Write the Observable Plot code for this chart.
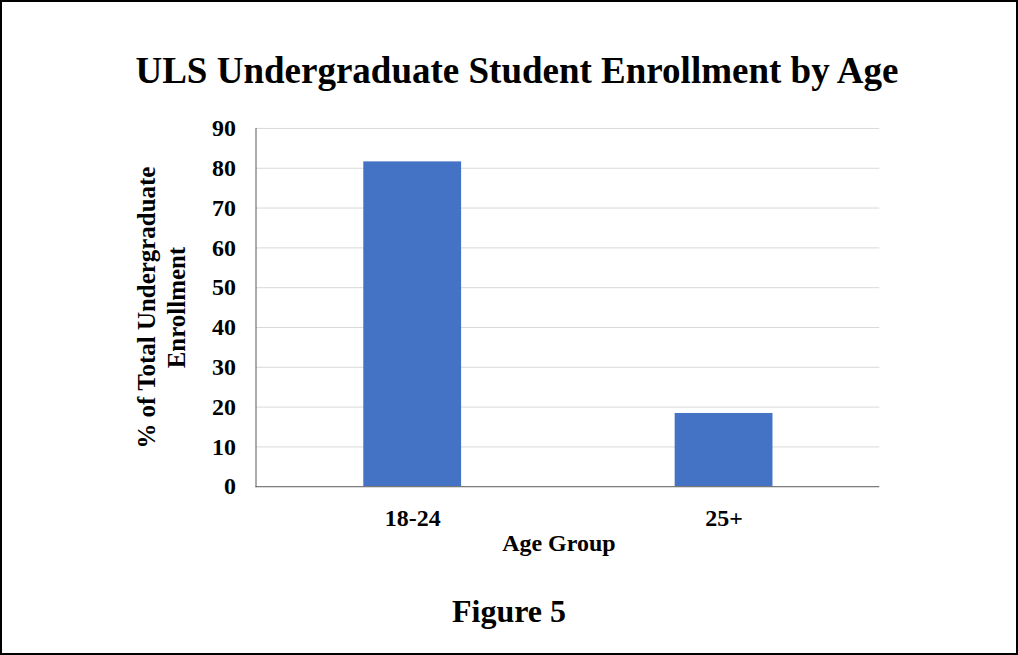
<!DOCTYPE html>
<html>
<head>
<meta charset="utf-8">
<script src="https://cdn.jsdelivr.net/npm/d3@7"></script>
<script src="https://cdn.jsdelivr.net/npm/@observablehq/plot@0.6"></script>
<style>
  html, body { margin: 0; padding: 0; background: #fff; }
  #page {
    position: relative; width: 1018px; height: 655px;
    box-sizing: border-box; border: 2px solid #000; overflow: hidden;
    font-family: "Liberation Serif", "Times New Roman", serif; color: #000;
  }
  .title {
    position: absolute; left: 6px; width: 1018px; top: 50px;
    text-align: center; font-weight: bold; font-size: 37px; line-height: 37px;
  }
  .caption {
    position: absolute; left: -2px; width: 1018px; top: 593px;
    text-align: center; font-weight: bold; font-size: 32px; line-height: 32px;
  }
  #chart { position: absolute; left: -2px; top: 97px; }
</style>
</head>
<body>
<div id="page">
  <div class="title">ULS Undergraduate Student Enrollment by Age</div>
  <div id="chart"></div>
  <div class="caption">Figure 5</div>
</div>
<script>
// Share of undergraduate enrollment by age group (percent)
const ageGroups = ["18-24", "25+"];
const enrollmentPct = [81.6, 18.4];
const yTicks = [0, 10, 20, 30, 40, 50, 60, 70, 80, 90];

const rows = ageGroups.map((g, i) => ({group: g, pct: enrollmentPct[i]}));

const chart = Plot.plot({
  width: 1018,
  height: 462,
  marginTop: 29,
  marginBottom: 74,
  marginLeft: 256,
  marginRight: 137,
  style: {fontFamily: "Liberation Serif, Times New Roman, serif", fontSize: "24px", fontWeight: "bold", color: "#000", background: "#fff"},
  x: {domain: ageGroups, paddingInner: 0.687, paddingOuter: 0.3435, label: null},
  y: {domain: [0, 90], ticks: yTicks, label: null},
  marks: [
    Plot.gridY(yTicks.filter(t => t > 0), {stroke: "#d9d9d9", strokeOpacity: 1, strokeWidth: 1}),
    Plot.barY(rows, {x: "group", y: "pct", fill: "#4472C4"}),
    Plot.axisY({ticks: yTicks, tickSize: 0, tickPadding: 20, label: null, fontSize: 24, fontWeight: "bold"}),
    Plot.axisX({tickSize: 0, tickPadding: 22, label: null, fontSize: 24, fontWeight: "bold"}),
    Plot.frame({anchor: "left", stroke: "#595959"}),
    Plot.ruleY([0], {stroke: "#595959"}),
    Plot.text(["Age Group"], {frameAnchor: "bottom", dy: 64, dx: -9, fontSize: 24, fontWeight: "bold"}),
    Plot.text(["% of Total Undergraduate\nEnrollment"], {frameAnchor: "left", textAnchor: "middle", dx: -96, rotate: -90, fontSize: 25, fontWeight: "bold", lineHeight: 1.2})
  ]
});
document.getElementById("chart").appendChild(chart);
</script>
</body>
</html>
